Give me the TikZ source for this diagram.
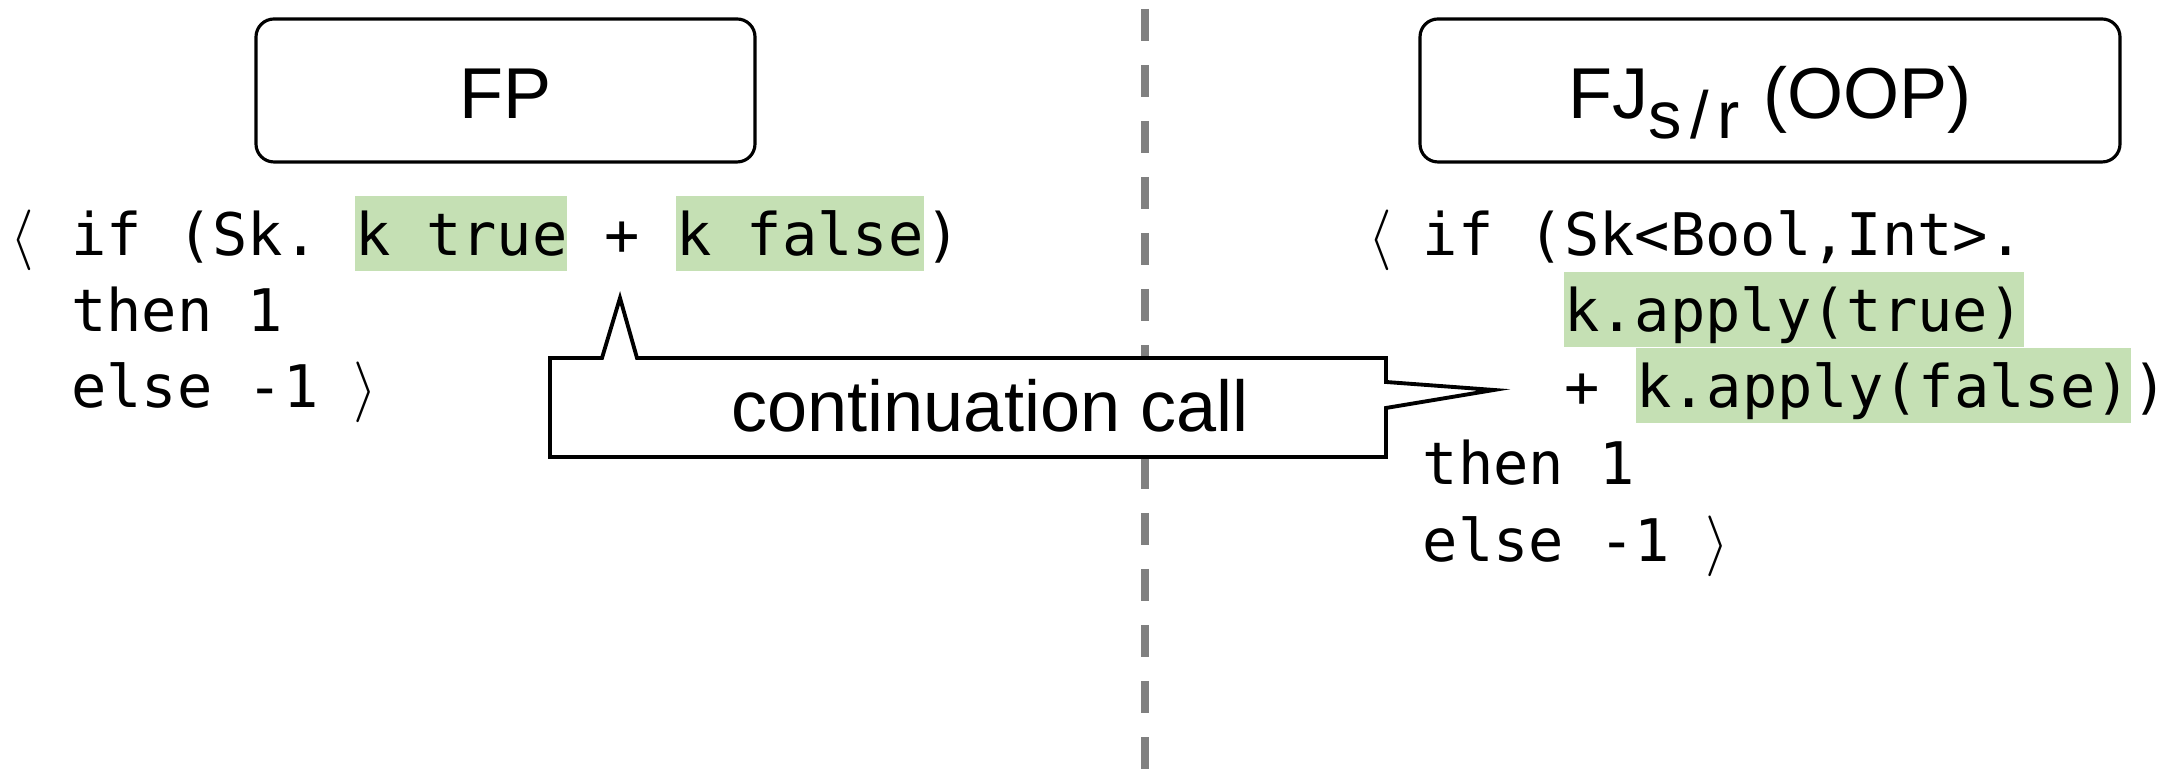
\documentclass[tikz,border=0pt]{standalone}
\usepackage{fontspec}
\setmainfont{Liberation Sans}
\setmonofont{DejaVu Sans Mono}
\usetikzlibrary{positioning}

\definecolor{hlgreen}{RGB}{197,224,180}
\definecolor{divgray}{RGB}{128,128,128}

% a space that survives at the end of a node
\newcommand{\codespace}{\mbox{\ }}

\tikzset{
  title/.style={draw, line width=0.9pt, rounded corners=0.18cm, minimum height=1.43cm,
    text height=0.57cm, text depth=0cm, font=\fontsize{20.5}{24}\selectfont},
  code/.style={inner sep=0pt, text height=0.60cm, text depth=0.15cm,
    font=\ttfamily\fontsize{16.7}{20}\selectfont\frenchspacing},
  hl/.style={code, fill=hlgreen},
  callout/.style={draw, fill=white, line width=1.1pt, line join=miter},
  divider/.style={draw=divgray, line width=0.08cm, dash pattern=on 0.32cm off 0.24cm},
}

\begin{document}
\begin{tikzpicture}
    \useasboundingbox (0, 0) rectangle (21.71, 7.69);

    % Divider
    \draw [divider] (11.45, 7.60) -- (11.45, 0);

    % Titles
    \node [title, minimum width=4.99cm] (fp) at (5.055, 6.785) {FP};
    \node [title, minimum width=7.00cm] (fj) at (17.70, 6.785)
        {FJ\raisebox{-0.2cm}{\fontsize{19}{21}\selectfont s\kern2.5pt/\kern2.5pt r}\kern1pt{} (OOP)};

    % FP term
    \node [code, anchor=base west] (fpopen) at (0.10, 5.13) {\(\langle\)};
    \node [code, anchor=base west] (fpif) at (0.706, 5.13) {if (Sk.\codespace};
    \node [hl, base right=0pt of fpif] (fpktrue) {k true};
    \node [code, base right=0pt of fpktrue] (fpplus) {\codespace+\codespace};
    \node [hl, base right=0pt of fpplus] (fpkfalse) {k false};
    \node [code, base right=0pt of fpkfalse] (fpclose) {)};
    \node [code, anchor=base west] (fpthen) at (0.706, 4.37) {then 1};
    \node [code, anchor=base west] (fpelse) at (0.706, 3.61) {else -1~\(\rangle\)};

    % FJ term
    \node [code, anchor=base west] (fjopen) at (13.68, 5.13) {\(\langle\)};
    \node [code, anchor=base west] (fjif) at (14.22, 5.13) {if (Sk<Bool,Int>.};
    \node [hl, anchor=base west] (fjktrue) at (15.634, 4.37) {k.apply(true)};
    \node [code, anchor=base west] (fjplus) at (15.634, 3.61) {+\codespace};
    \node [hl, base right=0pt of fjplus] (fjkfalse) {k.apply(false)};
    \node [code, base right=0pt of fjkfalse] (fjclose) {)};
    \node [code, anchor=base west] (fjthen) at (14.22, 2.84) {then 1};
    \node [code, anchor=base west] (fjelse) at (14.22, 2.07) {else -1~\(\rangle\)};

    % Callout
    \coordinate (tipup) at (6.20, 4.71);
    \coordinate (tipright) at (14.94, 3.79);
    \draw [callout] (5.50, 4.11) -- (6.02, 4.11) -- (tipup) -- (6.37, 4.11)
        -- (13.86, 4.11) -- (13.86, 3.87) -- (tipright) -- (13.86, 3.61)
        -- (13.86, 3.12) -- (5.50, 3.12) -- cycle;
    \node [anchor=base, font=\fontsize{20.5}{24}\selectfont] (calltext) at (9.90, 3.37) {continuation call};
\end{tikzpicture}
\end{document}
